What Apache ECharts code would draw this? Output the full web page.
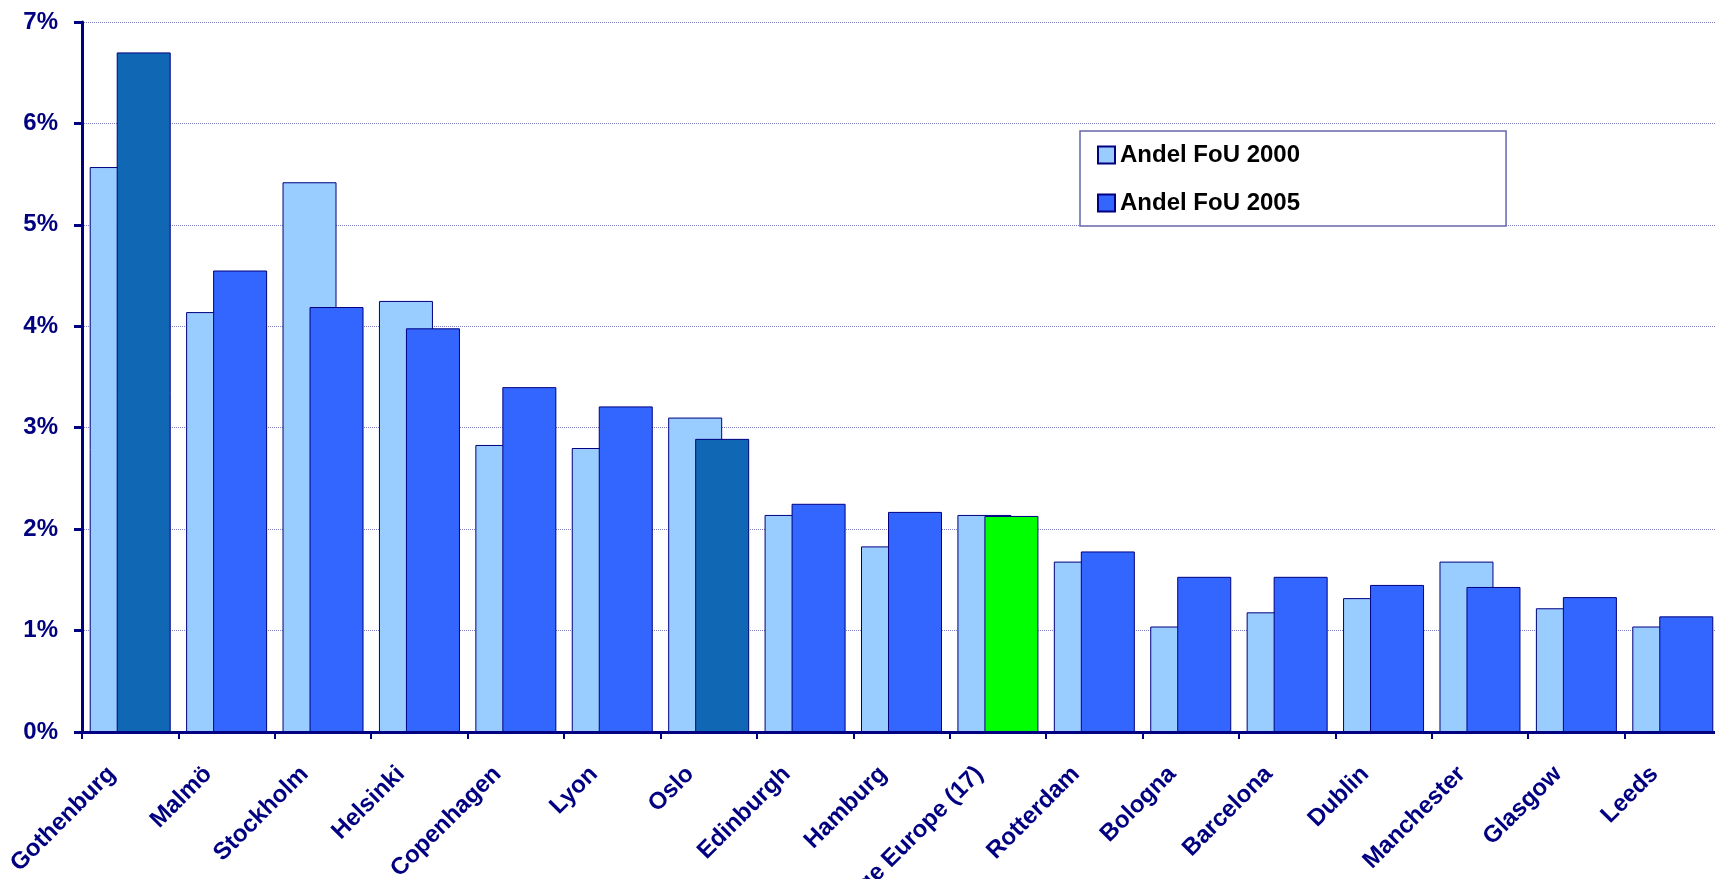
<!DOCTYPE html>
<html>
<head>
<meta charset="utf-8">
<script src="https://cdn.jsdelivr.net/npm/echarts@6/dist/echarts.min.js"></script>
<style>
  html, body { margin: 0; padding: 0; background: #fff; }
  #chart { width: 1715px; height: 879px; }
</style>
</head>
<body>
<div id="chart"></div>
<script>
// 数据
var cities = ['Gothenburg', 'Malmö', 'Stockholm', 'Helsinki', 'Copenhagen', 'Lyon', 'Oslo',
    'Edinburgh', 'Hamburg', 'Average Europe (17)', 'Rotterdam', 'Bologna', 'Barcelona',
    'Dublin', 'Manchester', 'Glasgow', 'Leeds'];
var fou2000 = [5.57, 4.14, 5.42, 4.25, 2.83, 2.80, 3.10, 2.14, 1.83, 2.14, 1.68, 1.04, 1.18, 1.32, 1.68, 1.22, 1.04];
var fou2005 = [6.70, 4.55, 4.19, 3.98, 3.40, 3.21, 2.89, 2.25, 2.17, 2.13, 1.78, 1.53, 1.53, 1.45, 1.43, 1.33, 1.14];
var yTicks = [0, 1, 2, 3, 4, 5, 6, 7];

var navy = '#000080';
var font = "'Liberation Sans', Arial, sans-serif";

// 单独着色的柱子
var special = { 'Gothenburg': '#1068B4', 'Oslo': '#1068B4', 'Average Europe (17)': '#00FF00' };
var data2005 = fou2005.map(function (v, i) {
    var c = special[cities[i]];
    return c ? { value: v, itemStyle: { color: c } } : v;
});

var chart = echarts.init(document.getElementById('chart'));
var option = {
    animation: false,
    textStyle: { fontFamily: font },
    grid: { left: 82, top: 22, bottom: 147, right: -6, containLabel: false, outerBoundsMode: 'none' },
    legend: {
        orient: 'vertical',
        left: 1080,
        top: 131,
        padding: [11, 206, 10, 17],
        itemGap: 22,
        itemWidth: 17,
        itemHeight: 17,
        icon: 'rect',
        borderColor: '#6666AA',
        borderWidth: 1.5,
        backgroundColor: '#fff',
        textStyle: { fontFamily: font, fontSize: 24, fontWeight: 'bold', color: '#000', lineHeight: 26 },
        data: ['Andel FoU 2000', 'Andel FoU 2005']
    },
    xAxis: {
        type: 'category',
        data: cities,
        axisLine: { lineStyle: { color: navy, width: 3 } },
        axisTick: { show: true, length: 7, lineStyle: { color: navy, width: 2 } },
        axisLabel: {
            interval: 0,
            rotate: 45,
            margin: 20,
            padding: [0, 26, 0, 0],
            color: navy,
            fontFamily: font,
            fontSize: 24,
            fontWeight: 'bold'
        }
    },
    yAxis: {
        type: 'value',
        min: yTicks[0],
        max: yTicks[yTicks.length - 1],
        interval: 1,
        axisLine: { show: true, lineStyle: { color: navy, width: 3 } },
        axisTick: { show: true, length: 8, lineStyle: { color: navy, width: 3 } },
        axisLabel: {
            margin: 24,
            formatter: '{value}%',
            color: navy,
            fontFamily: font,
            fontSize: 24,
            fontWeight: 'bold'
        },
        splitLine: { show: true, lineStyle: { color: '#8080C0', width: 1, type: 'dotted' } }
    },
    series: [
        {
            name: 'Andel FoU 2000',
            type: 'bar',
            data: fou2000,
            barWidth: 54,
            barGap: '-50%',
            itemStyle: { color: '#99CCFF', borderColor: navy, borderWidth: 1 }
        },
        {
            name: 'Andel FoU 2005',
            type: 'bar',
            data: data2005,
            barWidth: 54,
            itemStyle: { color: '#3366FF', borderColor: navy, borderWidth: 1 }
        }
    ]
};
chart.setOption(option);
window.onresize = chart.resize;
</script>
</body>
</html>
